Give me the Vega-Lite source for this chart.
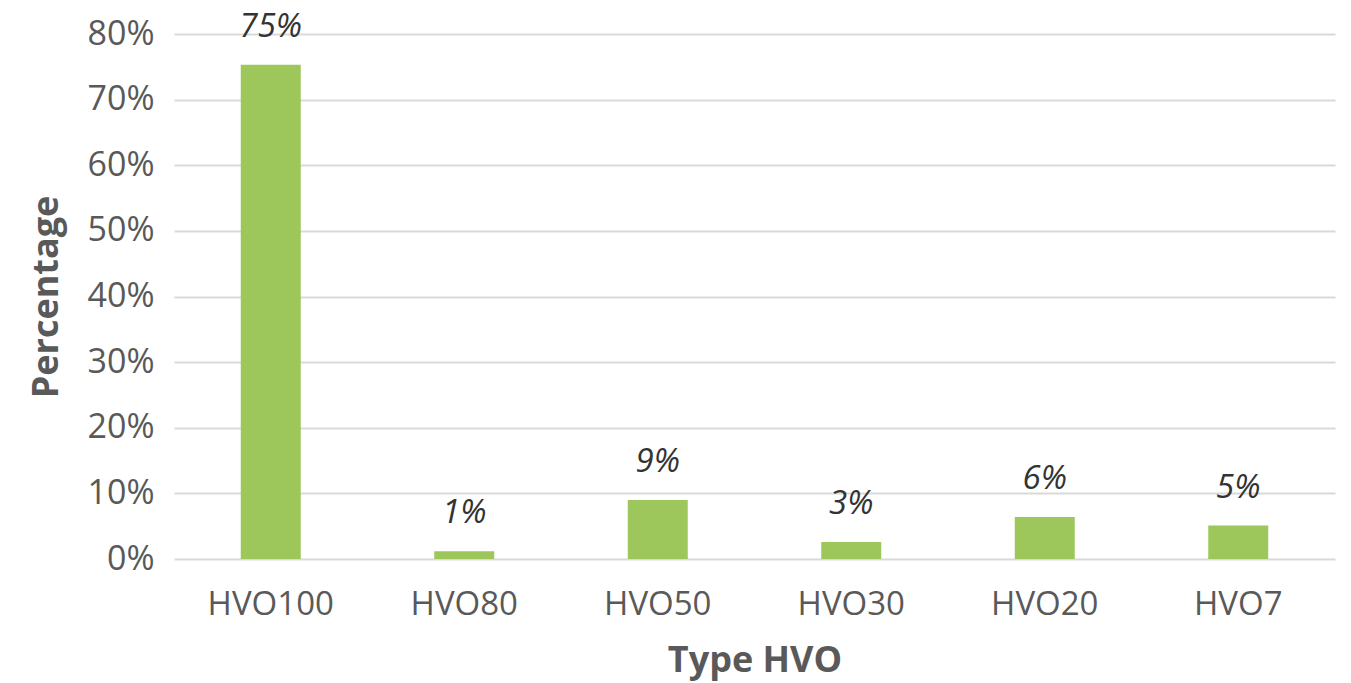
{
  "$schema": "https://vega.github.io/schema/vega-lite/v6.json",
  "autosize": "none",
  "width": 1161,
  "height": 525,
  "padding": {"left": 174, "top": 34, "right": 16, "bottom": 124},
  "background": "white",
  "config": {"view": {"stroke": null}, "font": "Open Sans"},
  "data": {"values": [
    {"type": "HVO100", "pct": 0.753},
    {"type": "HVO80", "pct": 0.012},
    {"type": "HVO50", "pct": 0.090},
    {"type": "HVO30", "pct": 0.026},
    {"type": "HVO20", "pct": 0.064},
    {"type": "HVO7", "pct": 0.051}
  ]},
  "encoding": {
    "x": {"field": "type", "type": "nominal", "sort": null,
      "scale": {"paddingInner": 0.69, "paddingOuter": 0.345},
      "axis": {"title": "Type HVO", "labelAngle": 0, "domain": false, "ticks": false,
        "labelFont": "Open Sans", "labelFontSize": 33, "labelColor": "#595959", "labelPadding": 29,
        "titleFont": "Open Sans", "titleFontSize": 36, "titleFontWeight": "bold", "titleColor": "#595959", "titlePadding": 22}},
    "y": {"field": "pct", "type": "quantitative",
      "scale": {"domain": [0, 0.8]},
      "axis": {"title": "Percentage", "format": ".0%", "values": [0,0.1,0.2,0.3,0.4,0.5,0.6,0.7,0.8], "labelOverlap": false,
        "domain": false, "ticks": false, "gridColor": "#d9d9d9", "gridWidth": 2,
        "labelFont": "Open Sans", "labelFontSize": 34, "labelColor": "#595959", "labelPadding": 20,
        "titleFont": "Open Sans", "titleFontSize": 36, "titleFontWeight": "bold", "titleColor": "#595959", "titlePadding": 22}}
  },
  "layer": [
    {"mark": {"type": "bar", "color": "#9DC75A"}},
    {"mark": {"type": "text", "dy": -28, "baseline": "alphabetic", "fontSize": 33, "fontStyle": "italic", "color": "#333333", "font": "Open Sans"},
      "encoding": {"text": {"field": "pct", "type": "quantitative", "format": ".0%"}}}
  ]
}
